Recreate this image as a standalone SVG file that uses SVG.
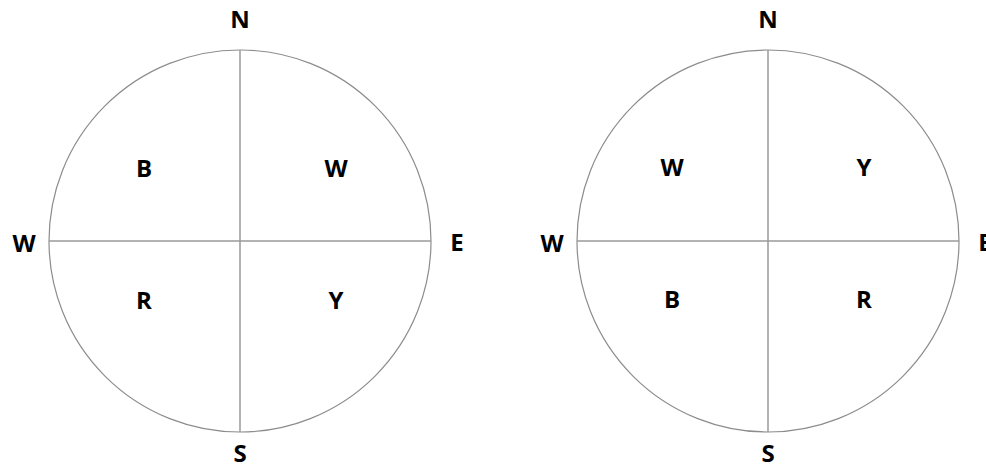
<svg xmlns="http://www.w3.org/2000/svg" width="986" height="467" viewBox="0 0 986 467">
<style>
.c{fill:none;stroke:#8c8c8c;stroke-width:1.2}
.l{stroke:#9a9a9a;stroke-width:1.5}
text{font-family:"Open Sans","Noto Sans","Liberation Sans",sans-serif;font-weight:bold;font-size:24px;fill:#000;text-anchor:middle}
</style>
<rect width="986" height="467" fill="#fff"/>
<g id="compass-left">
<circle class="c" cx="240" cy="241" r="191"/>
<g id="connectors-left">
<line class="l" x1="240" y1="50" x2="240" y2="432"/>
<line class="l" x1="49" y1="241" x2="431" y2="241"/>
</g>
<text x="240" y="28">N</text>
<text x="240" y="462">S</text>
<text x="24" y="252">W</text>
<text x="457" y="251">E</text>
<text x="144" y="177">B</text>
<text x="336" y="177">W</text>
<text x="144" y="309">R</text>
<text x="336" y="309">Y</text>
</g>
<g id="compass-right">
<circle class="c" cx="768" cy="241" r="191"/>
<g id="connectors-right">
<line class="l" x1="768" y1="50" x2="768" y2="432"/>
<line class="l" x1="577" y1="241" x2="959" y2="241"/>
</g>
<text x="768" y="28">N</text>
<text x="768" y="462">S</text>
<text x="552" y="252">W</text>
<text x="985" y="251">E</text>
<text x="672" y="176">W</text>
<text x="864" y="176">Y</text>
<text x="672" y="308">B</text>
<text x="864" y="308">R</text>
</g>
</svg>
